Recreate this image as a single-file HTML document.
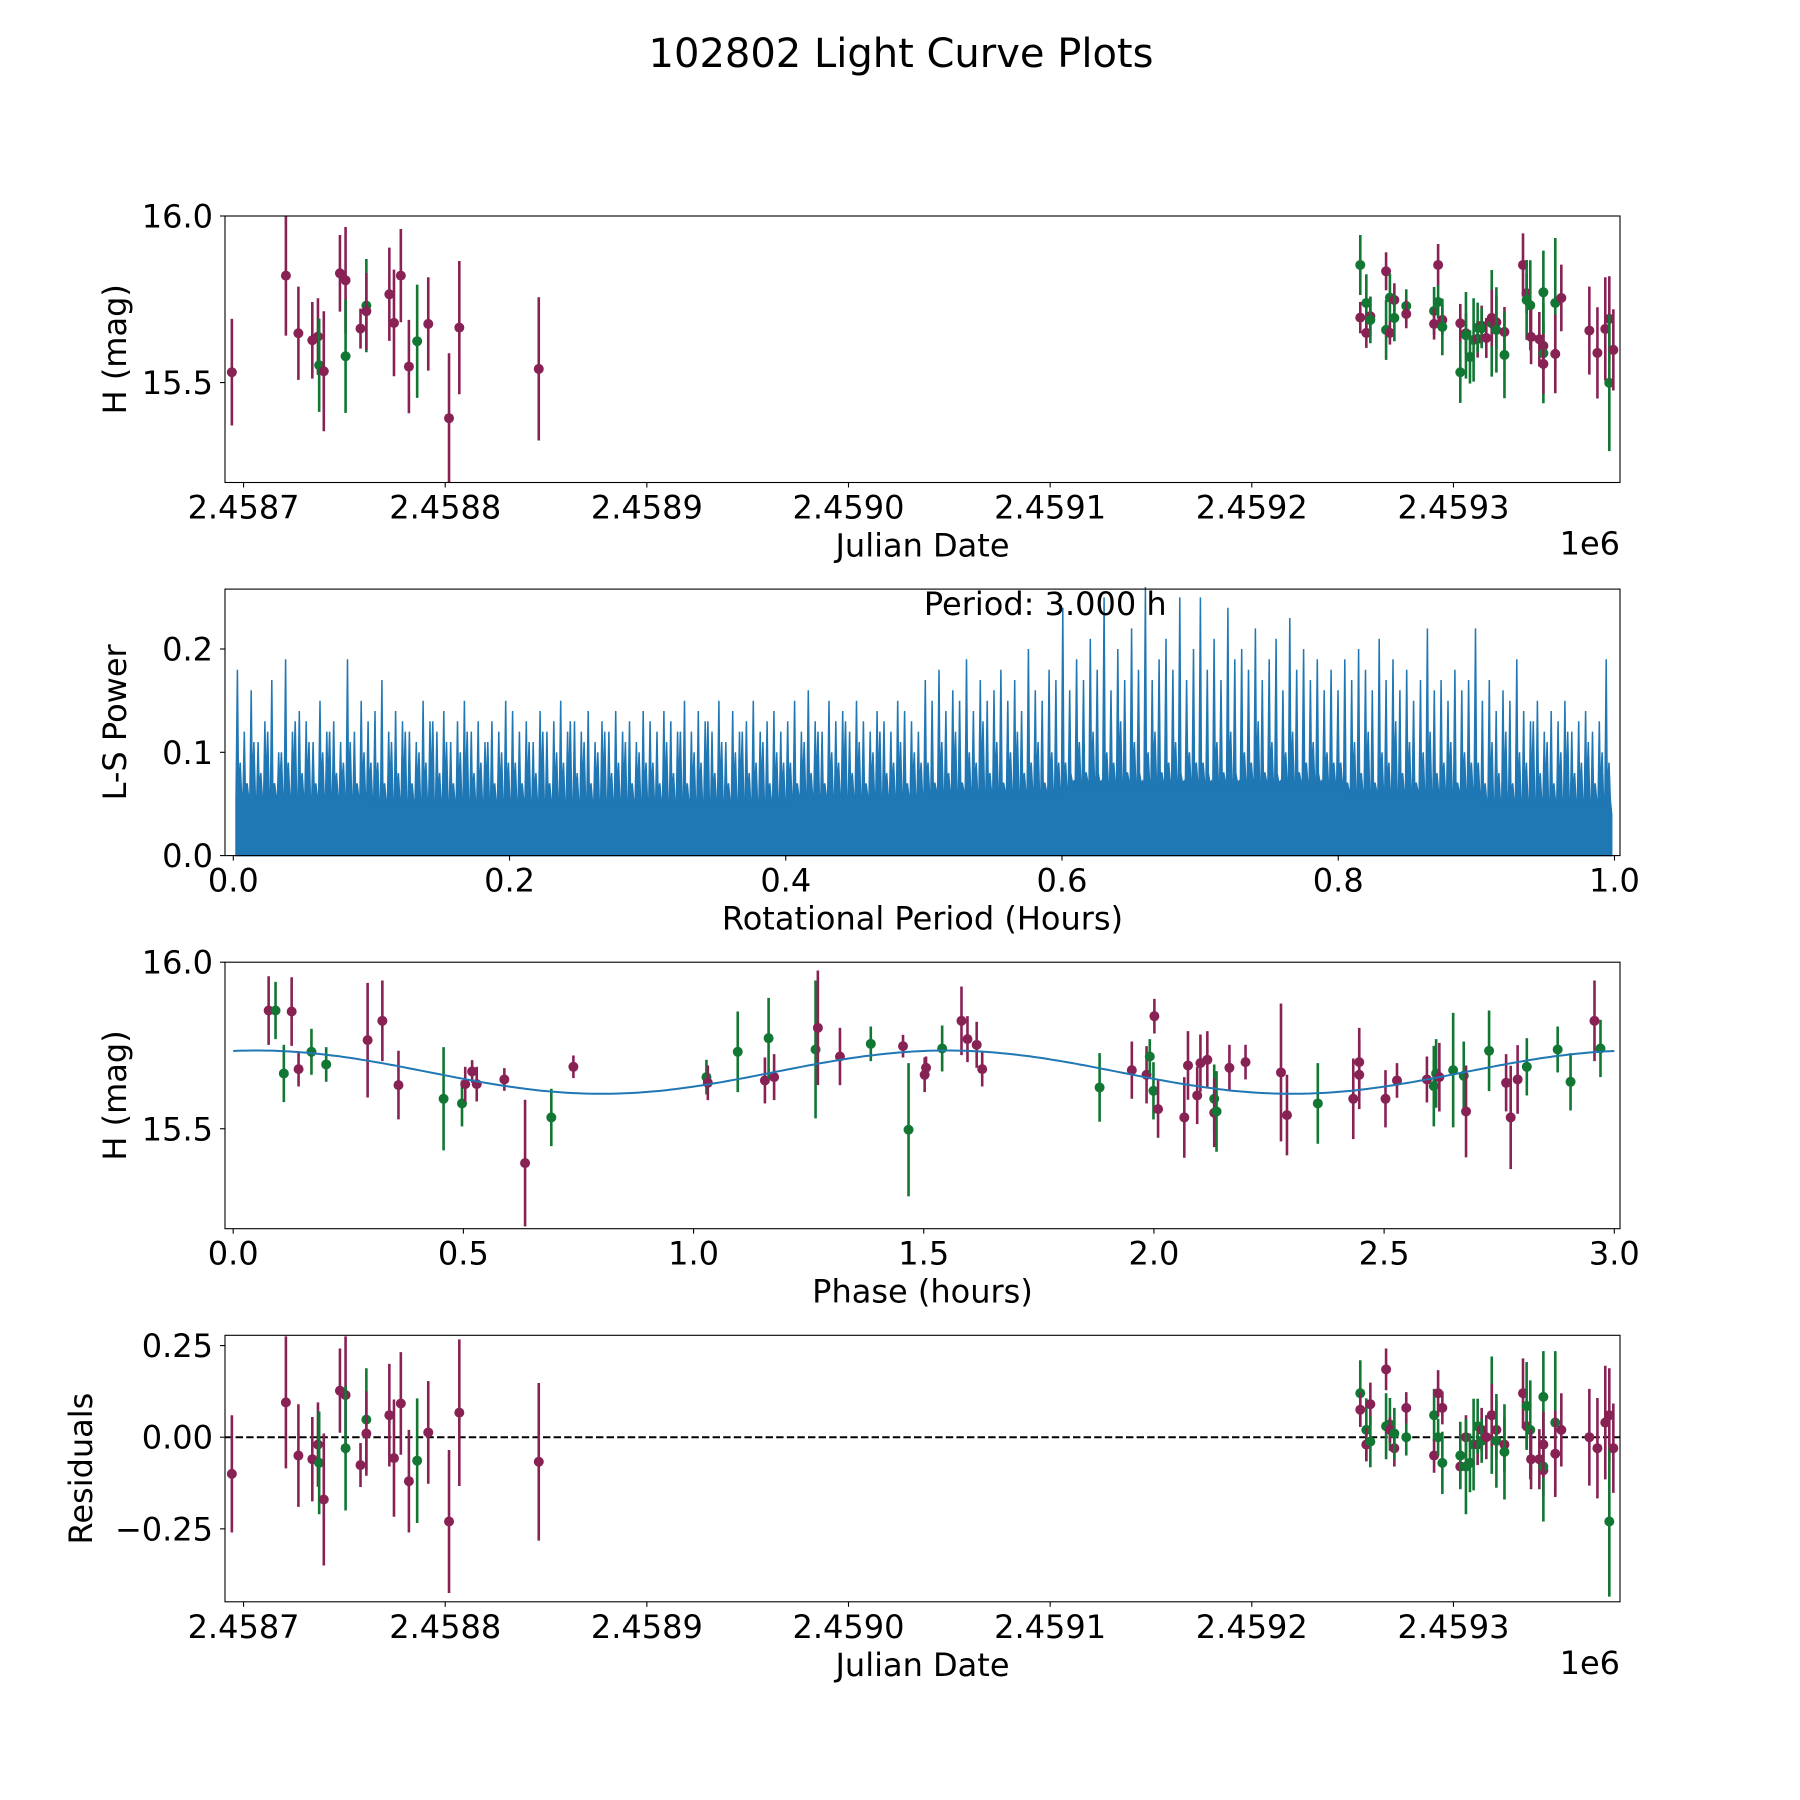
<!DOCTYPE html>
<html><head><meta charset="utf-8"><style>
html,body{margin:0;padding:0;background:#fff;}
svg{display:block;font-family:"DejaVu Sans","Liberation Sans",sans-serif;}
</style></head>
<body>
<svg id="fig" width="1800" height="1800" viewBox="0 0 1800 1800" xmlns="http://www.w3.org/2000/svg">
<rect width="1800" height="1800" fill="#fff"/>
<text x="901" y="67" font-size="40" text-anchor="middle">102802 Light Curve Plots</text>
</svg>
<script>
// ===== Data: light curve (days since JD 2458700) =====
const obsDay = [-5.8,21.0,27.2,34.1,36.9,37.5,39.8,47.8,50.6,50.6,58.0,60.9,60.9,72.3,74.6,78.0,82.0,86.1,91.6,101.9,107.0,146.4,
553.8,553.8,556.8,556.8,558.8,558.8,566.6,566.6,568.5,568.5,570.7,570.7,576.6,576.6,590.4,590.4,592.4,592.4,594.5,594.5,603.4,603.4,606.2,606.2,608.2,610.0,612.0,612.0,614.0,614.0,616.3,619.0,619.0,621.3,621.3,625.3,625.3,634.5,636.3,636.3,638.1,638.5,642.6,644.6,644.6,644.6,644.6,650.5,650.5,653.5,667.4,671.4,675.3,677.3,677.3,679.3];
const obsMag = [15.531,15.821,15.648,15.627,15.638,15.552,15.534,15.828,15.807,15.579,15.662,15.731,15.714,15.765,15.679,15.821,15.548,15.624,15.676,15.393,15.665,15.541,
15.853,15.695,15.739,15.649,15.699,15.688,15.834,15.658,15.755,15.649,15.748,15.694,15.730,15.706,15.715,15.676,15.853,15.742,15.688,15.667,15.678,15.531,15.648,15.642,15.577,15.628,15.631,15.665,15.671,15.663,15.634,15.678,15.694,15.681,15.658,15.652,15.583,15.853,15.768,15.748,15.732,15.637,15.630,15.610,15.771,15.588,15.556,15.739,15.586,15.754,15.656,15.589,15.661,15.691,15.499,15.598];
const obsErr = [0.16,0.18,0.14,0.115,0.115,0.14,0.18,0.115,0.16,0.17,0.06,0.14,0.115,0.14,0.16,0.14,0.14,0.17,0.14,0.195,0.2,0.215,
0.09,0.047,0.086,0.045,0.059,0.07,0.057,0.09,0.072,0.035,0.05,0.07,0.05,0.043,0.072,0.047,0.063,0.05,0.045,0.085,0.058,0.092,0.06,0.13,0.08,0.125,0.056,0.075,0.06,0.06,0.06,0.16,0.085,0.08,0.128,0.075,0.13,0.095,0.06,0.12,0.135,0.082,0.082,0.072,0.125,0.15,0.09,0.195,0.118,0.10,0.132,0.137,0.155,0.128,0.205,0.122];
const obsFilter = ["p","p","p","p","p","g","p","p","p","g","p","g","p","p","p","p","p","g","p","p","p","p",
"g","p","g","p","p","g","p","g","g","p","p","g","g","p","g","p","p","g","p","g","p","g","p","g","g","g","p","g","p","g","p","g","p","p","g","p","g","p","p","g","g","p","p","p","g","g","p","g","p","p","p","p","p","p","g","p"];
const residuals = [-0.10,0.095,-0.05,-0.06,-0.02,-0.07,-0.17,0.127,0.115,-0.03,-0.076,0.048,0.01,0.06,-0.057,0.092,-0.12,-0.064,0.013,-0.23,0.067,-0.067,
0.12,0.075,0.02,-0.02,0.09,-0.012,0.185,0.03,0.035,0.02,-0.03,0.01,0.0,0.08,0.06,-0.05,0.12,0.0,0.08,-0.07,-0.08,-0.05,0.0,-0.08,-0.07,-0.02,-0.02,0.03,0.02,-0.01,0.0,0.06,0.06,0.02,-0.01,-0.02,-0.04,0.12,0.03,0.085,0.02,-0.06,-0.06,-0.09,0.11,-0.08,-0.02,0.04,-0.045,0.02,0.0,-0.03,0.04,0.06,-0.23,-0.03];
const jdTicks = [0,100,200,300,400,500,600];
const jdTickLabels = ["2.4587","2.4588","2.4589","2.4590","2.4591","2.4592","2.4593"];
const magTicks = [15.5,16.0];
const magTickLabels = ["15.5","16.0"];
const resTicks = [0.25,0,-0.25];
const resTickLabels = ["0.25","0.00","\u22120.25"];

// ===== Data: periodogram =====
const lsPeakPower = [.18,.12,.16,.11,.13,.17,.10,.19,.12,.14,.13,.11,.15,.12,.13,.11,.19,.12,.15,.13,
.14,.17,.12,.14,.13,.12,.11,.15,.13,.12,.14,.11,.13,.15,.12,.13,.11,.13,.12,.15,
.14,.12,.13,.11,.14,.12,.13,.15,.12,.13,.12,.14,.11,.13,.12,.14,.12,.13,.11,.14,
.13,.12,.14,.13,.12,.15,.12,.14,.13,.12,.15,.11,.14,.12,.13,.15,.12,.13,.14,.12,
.13,.15,.12,.16,.13,.12,.15,.13,.14,.12,.15,.13,.12,.14,.13,.12,.15,.14,.13,.12,
.17,.15,.18,.14,.16,.15,.19,.14,.17,.15,.16,.18,.15,.17,.14,.20,.16,.15,.18,.17,
.24,.16,.19,.17,.21,.18,.25,.16,.20,.17,.22,.18,.26,.17,.19,.21,.18,.25,.17,.20,
.25,.18,.21,.17,.24,.19,.20,.18,.22,.17,.19,.21,.16,.23,.18,.20,.17,.19,.16,.18,
.16,.19,.17,.20,.18,.16,.21,.17,.19,.16,.18,.15,.17,.22,.16,.17,.15,.18,.16,.17,
.22,.15,.17,.14,.16,.15,.19,.14,.13,.15,.12,.14,.13,.15,.12,.13,.14,.12,.13,.19];
const lsMidPower = [.09,.07,.11,.08,.12,.07,.10,.09,.13,.08,.11,.07,.10,.12,.08,.09,.11,.07,.10,.09];
const lsBandLevel = [.065,.06,.06,.06,.065,.07,.08,.08,.07,.06];
const lsXTicks = [0,0.2,0.4,0.6,0.8,1.0];
const lsXTickLabels = ["0.0","0.2","0.4","0.6","0.8","1.0"];
const lsYTicks = [0,0.1,0.2];
const lsYTickLabels = ["0.0","0.1","0.2"];

// ===== Data: phased light curve =====
const phaseHours = [.077,.092,.127,.110,.142,.170,.202,.292,.324,.359,.457,.497,.504,.519,.529,.589,.634,.691,.739,1.028,1.031,1.096,1.155,1.163,1.175,1.265,1.270,1.318,1.385,1.455,1.467,1.502,1.505,1.540,1.582,1.595,1.615,1.627,1.882,1.952,1.984,1.991,1.999,2.001,2.009,2.066,2.074,2.094,2.101,2.116,2.131,2.131,2.136,2.164,2.199,2.276,2.289,2.356,2.433,2.446,2.446,2.503,2.528,2.593,2.608,2.613,2.620,2.650,2.673,2.678,2.728,2.765,2.775,2.790,2.810,2.877,2.905,2.957,2.970];
const phaseMag = [15.855,15.855,15.852,15.666,15.679,15.731,15.693,15.766,15.824,15.631,15.590,15.576,15.634,15.672,15.634,15.648,15.397,15.534,15.686,15.655,15.638,15.731,15.645,15.772,15.655,15.738,15.803,15.717,15.755,15.748,15.497,15.662,15.683,15.741,15.824,15.769,15.752,15.679,15.624,15.676,15.662,15.717,15.614,15.838,15.559,15.534,15.690,15.600,15.697,15.707,15.590,15.548,15.552,15.683,15.700,15.669,15.541,15.576,15.590,15.700,15.662,15.590,15.645,15.648,15.628,15.666,15.655,15.676,15.659,15.552,15.734,15.638,15.534,15.648,15.686,15.738,15.641,15.824,15.741];
const phaseErr = [.103,.086,.103,.086,.052,.069,.052,.172,.121,.103,.155,.069,.052,.034,.052,.034,.19,.086,.034,.052,.052,.121,.069,.121,.069,.207,.172,.086,.052,.034,.2,.052,.034,.069,.103,.069,.069,.052,.103,.086,.086,.052,.086,.052,.086,.121,.103,.086,.086,.086,.103,.103,.121,.069,.052,.207,.121,.121,.121,.103,.103,.086,.052,.069,.121,.103,.103,.172,.103,.138,.121,.086,.155,.103,.086,.069,.086,.121,.086];
const phaseFilter = ["p","g","p","g","p","g","g","p","p","p","g","g","p","p","p","p","p","g","p","g","p","g","p","g","p","g","p","p","g","p","g","p","p","g","p","p","p","p","g","p","p","g","g","p","p","p","p","p","p","p","g","p","g","p","p","p","p","g","p","p","p","p","p","p","g","g","p","g","g","p","g","p","p","p","g","g","g","p","g"];
const modelParams = [15.67, 0.065, 1.5, 0.05]; // mean, amplitude, period(h), peak phase
const phaseTicks = [0,0.5,1.0,1.5,2.0,2.5,3.0];
const phaseTickLabels = ["0.0","0.5","1.0","1.5","2.0","2.5","3.0"];

// ===== Drawing =====
const NS = "http://www.w3.org/2000/svg";
const svg = document.getElementById("fig");
const COLORS = {p:"#882255", g:"#117733"};
const AX_L = 225, AX_R = 1620, AX_H = 266.5;
const TOPS = [216, 589.1, 962.2, 1335.3];
const FS = 32;

function mk(tag, attrs, parent){
  const e = document.createElementNS(NS, tag);
  for (const k in attrs) e.setAttribute(k, attrs[k]);
  (parent||svg).appendChild(e);
  return e;
}
function scale(d0,d1,r0,r1){ return v => r0 + (v-d0)/(d1-d0)*(r1-r0); }

function axesFrame(top, name){
  const g = mk("g", {});
  
  
  return g;
}
function drawBorder(g, top){
  const r = mk("rect", {x:AX_L, y:top, width:AX_R-AX_L, height:AX_H, fill:"none", stroke:"#000", "stroke-width":1.1}, g);
  
  
}
function xTicks(g, top, sx, vals, labels){
  const y = top + AX_H;
  vals.forEach((v,i)=>{
    const x = sx(v);
    const t = mk("line", {x1:x, x2:x, y1:y, y2:y+5, stroke:"#000", "stroke-width":1.1}, g);
    
    
    const tx = mk("text", {x:x, y:y+36, "font-size":FS, "text-anchor":"middle"}, g);
    tx.textContent = labels[i];
    
    
  });
}
function yTicks(g, sy, vals, labels){
  vals.forEach((v,i)=>{
    const y = sy(v);
    const t = mk("line", {x1:AX_L-5, x2:AX_L, y1:y, y2:y, stroke:"#000", "stroke-width":1.1}, g);
    
    
    const tx = mk("text", {x:AX_L-12, y:y+11.5, "font-size":FS, "text-anchor":"end"}, g);
    tx.textContent = labels[i];
    
    
  });
}
function xLabel(g, top, text, name){
  const t = mk("text", {x:(AX_L+AX_R)/2, y:top+AX_H+74, "font-size":FS, "text-anchor":"middle"}, g);
  t.textContent = text;
  
  
}
function yLabel(g, top, text, x, name){
  const cy = top + AX_H/2;
  const t = mk("text", {x:x, y:cy, "font-size":FS, "text-anchor":"middle", transform:`rotate(-90 ${x} ${cy})`}, g);
  t.textContent = text;
  
  
}
function offsetLabel(g, top){
  const t = mk("text", {x:AX_R, y:top+AX_H+72, "font-size":FS, "text-anchor":"end"}, g);
  t.textContent = "1e6";
  
  
}
function errPoints(g, xs, ys, es, fs, sx, sy, top){
  const cp = mk("clipPath", {id:"clip"+Math.round(top)}, g);
  mk("rect", {x:AX_L, y:top, width:AX_R-AX_L, height:AX_H}, cp);
  const inner = mk("g", {"clip-path":`url(#clip${Math.round(top)})`}, g);
  xs.forEach((xv,i)=>{
    const x = sx(xv), c = COLORS[fs[i]];
    const bar = mk("line", {x1:x, x2:x, y1:sy(ys[i]-es[i]), y2:sy(ys[i]+es[i]), stroke:c, "stroke-width":2.6}, inner);
    
    
    const pt = mk("circle", {cx:x, cy:sy(ys[i]), r:5, fill:c}, inner);
    
    
  });
}

// Panel 1: light curve
(function(){
  const top = TOPS[0];
  const g = axesFrame(top, 'light-curve-panel');
  const sx = scale(-9.2, 682.6, AX_L, AX_R);
  const sy = scale(15.2, 16.0, top+AX_H, top);
  errPoints(g, obsDay, obsMag, obsErr, obsFilter, sx, sy, top);
  drawBorder(g, top);
  xTicks(g, top, sx, jdTicks, jdTickLabels);
  yTicks(g, sy, magTicks, magTickLabels);
  xLabel(g, top, "Julian Date", 'x-axis-title');
  yLabel(g, top, "H (mag)", 126, 'y-axis-title');
  offsetLabel(g, top);
})();

// Panel 2: periodogram
(function(){
  const top = TOPS[1];
  const g = axesFrame(top, 'periodogram-panel');
  const sx = scale(-0.006, 1.004, AX_L, AX_R);
  const sy = scale(0, 0.258, top+AX_H, top);
  const n = lsPeakPower.length;
  const step = 0.996/n;
  let pts = [[sx(0.002), sy(0)]];
  lsPeakPower.forEach((p,i)=>{
    const x0 = 0.002 + i*step;
    const band = lsBandLevel[Math.min(lsBandLevel.length-1, Math.floor(x0*lsBandLevel.length))];
    const mid = lsMidPower[i % lsMidPower.length];
    pts.push([sx(x0), sy(band*0.8)]);
    pts.push([sx(x0+step*0.2), sy(p)]);
    pts.push([sx(x0+step*0.35), sy(band)]);
    pts.push([sx(x0+step*0.6), sy(mid)]);
    pts.push([sx(x0+step*0.8), sy(band*0.9)]);
  });
  pts.push([sx(0.998), sy(0.04)], [sx(0.998), sy(0)]);
  const poly = mk("polygon", {points: pts.map(p=>p[0].toFixed(1)+","+p[1].toFixed(1)).join(" "), fill:"#1f77b4", stroke:"#1f77b4", "stroke-width":1.5, "stroke-linejoin":"miter"}, g);
  
  
  drawBorder(g, top);
  xTicks(g, top, sx, lsXTicks, lsXTickLabels);
  yTicks(g, sy, lsYTicks, lsYTickLabels);
  xLabel(g, top, "Rotational Period (Hours)", 'x-axis-title');
  yLabel(g, top, "L-S Power", 126, 'y-axis-title');
  const ann = mk("text", {x:sx(0.5), y:top+26, "font-size":FS}, g);
  ann.textContent = "Period: 3.000 h";
  
  
})();

// Panel 3: phased curve
(function(){
  const top = TOPS[2];
  const g = axesFrame(top, 'phase-curve-panel');
  const sx = scale(-0.0178, 3.0124, AX_L, AX_R);
  const sy = scale(15.2, 16.0, top+AX_H, top);
  errPoints(g, phaseHours, phaseMag, phaseErr, phaseFilter, sx, sy, top);
  const [m, a, per, ph0] = modelParams;
  let d = "";
  for (let i=0;i<=300;i++){
    const t = i/100;
    const v = m + a*Math.cos(2*Math.PI*(t-ph0)/per);
    d += (i?"L":"M") + sx(t).toFixed(1) + "," + sy(v).toFixed(1);
  }
  const curve = mk("path", {d:d, fill:"none", stroke:"#1f77b4", "stroke-width":2}, g);
  
  
  drawBorder(g, top);
  xTicks(g, top, sx, phaseTicks, phaseTickLabels);
  yTicks(g, sy, magTicks, magTickLabels);
  xLabel(g, top, "Phase (hours)", 'x-axis-title');
  yLabel(g, top, "H (mag)", 126, 'y-axis-title');
})();

// Panel 4: residuals
(function(){
  const top = TOPS[3];
  const g = axesFrame(top, 'residuals-panel');
  const sx = scale(-9.2, 682.6, AX_L, AX_R);
  const sy = scale(-0.449, 0.278, top+AX_H, top);
  const zero = mk("line", {x1:AX_L, x2:AX_R, y1:sy(0), y2:sy(0), stroke:"#000", "stroke-width":2, "stroke-dasharray":"7.4,3.2"}, g);
  
  
  errPoints(g, obsDay, residuals, obsErr, obsFilter, sx, sy, top);
  drawBorder(g, top);
  xTicks(g, top, sx, jdTicks, jdTickLabels);
  yTicks(g, sy, resTicks, resTickLabels);
  xLabel(g, top, "Julian Date", 'x-axis-title');
  yLabel(g, top, "Residuals", 92, 'y-axis-title');
  offsetLabel(g, top);
})();
</script>
</body></html>
